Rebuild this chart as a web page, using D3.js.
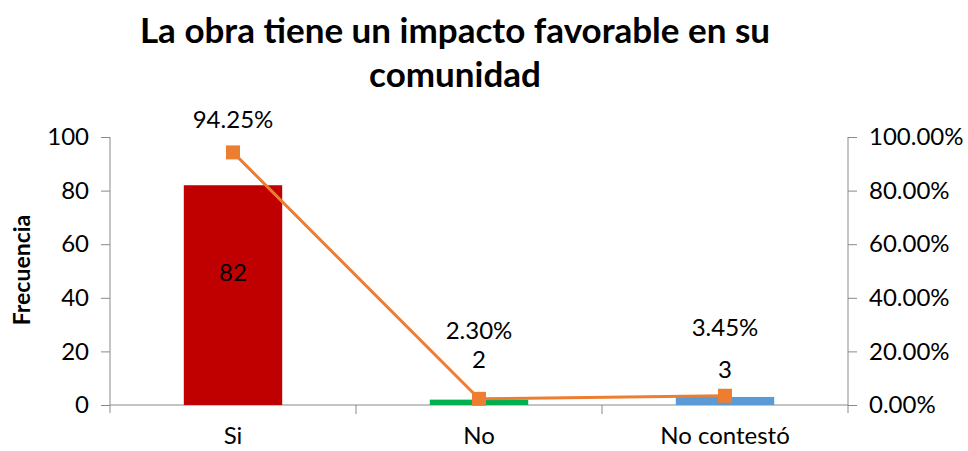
<!DOCTYPE html>
<html>
<head>
<meta charset="utf-8">
<script src="https://cdn.jsdelivr.net/npm/d3@7"></script>
<style>
  body { margin: 0; background: #fff; font-family: Lato, "Open Sans", sans-serif; }
  .tick text { font-size: 24px; fill: #000; font-family: Lato, "Open Sans", sans-serif; }
  .domain, .tick line { stroke: #898989; }
</style>
</head>
<body>
<div id="chart"></div>
<script>
// chart data
const categories = ["Si", "No", "No contestó"];
const frecuencia = [82, 2, 3];
const porcentaje = [94.25, 2.30, 3.45];
const barColours = ["#C00000", "#00B050", "#5B9BD5"];
const leftTicks = [0, 20, 40, 60, 80, 100];
const rightTicks = [0, 20, 40, 60, 80, 100];

const width = 968, height = 451;
const margin = { left: 110, right: 120, top: 137, bottom: 46 };
const innerWidth = width - margin.left - margin.right;
const innerHeight = height - margin.top - margin.bottom;

const svg = d3.select("#chart").append("svg")
    .attr("width", width)
    .attr("height", height);

// title
const title = svg.append("text")
    .attr("text-anchor", "middle")
    .style("font-size", "35px")
    .style("font-weight", "bold");
title.append("tspan").attr("x", 455).attr("y", 43).text("La obra tiene un impacto favorable en su");
title.append("tspan").attr("x", 455).attr("y", 87).text("comunidad");

// y axis title
svg.append("text")
    .attr("transform", "translate(30,270) rotate(-90)")
    .attr("text-anchor", "middle")
    .style("font-size", "23px")
    .style("font-weight", "bold")
    .text("Frecuencia");

const g = svg.append("g")
    .attr("transform", `translate(${margin.left},${margin.top})`);

const xScale = d3.scaleBand().domain(categories).range([0, innerWidth]);
const yScale = d3.scaleLinear().domain([0, 100]).range([innerHeight, 0]);
const pScale = d3.scaleLinear().domain([0, 100]).range([innerHeight, 0]);

// left axis
const yAxisG = g.append("g")
    .call(d3.axisLeft(yScale).tickValues(leftTicks).tickSize(9).tickPadding(12).tickSizeOuter(0));
yAxisG.select(".domain").attr("d", `M0,0V${innerHeight + 8}`);

// right axis
const pAxisG = g.append("g")
    .attr("transform", `translate(${innerWidth},0)`)
    .call(d3.axisRight(pScale).tickValues(rightTicks).tickSize(9).tickPadding(12).tickSizeOuter(0)
        .tickFormat(d => d.toFixed(2) + "%"));
pAxisG.select(".domain").attr("d", `M0,0V${innerHeight + 8}`);

// bottom axis
const xAxisG = g.append("g")
    .attr("transform", `translate(0,${innerHeight})`)
    .call(d3.axisBottom(xScale).tickSize(0).tickPadding(22).tickSizeOuter(0));
xAxisG.select(".domain").attr("d", `M0,0H${innerWidth}`);
// category separators
g.append("g").selectAll("line")
    .data(categories.slice(1))
    .enter().append("line")
    .attr("x1", d => xScale(d))
    .attr("x2", d => xScale(d))
    .attr("y1", innerHeight)
    .attr("y2", innerHeight + 9)
    .attr("stroke", "#898989");

// bars
const barWidth = xScale.bandwidth() * 0.4;
g.selectAll("rect.bar").data(frecuencia)
    .enter().append("rect")
    .attr("class", "bar")
    .attr("x", (d, i) => xScale(categories[i]) + (xScale.bandwidth() - barWidth) / 2)
    .attr("y", d => yScale(d))
    .attr("width", barWidth)
    .attr("height", d => innerHeight - yScale(d))
    .attr("fill", (d, i) => barColours[i]);

// percentage line
const cx = i => xScale(categories[i]) + xScale.bandwidth() / 2;
const line = d3.line()
    .x((d, i) => cx(i))
    .y(d => pScale(d));
g.append("path")
    .datum(porcentaje)
    .attr("d", line)
    .attr("fill", "none")
    .attr("stroke", "#ED7D31")
    .attr("stroke-width", 3);
g.selectAll("rect.marker").data(porcentaje)
    .enter().append("rect")
    .attr("class", "marker")
    .attr("x", (d, i) => cx(i) - 7)
    .attr("y", d => pScale(d) - 7)
    .attr("width", 14)
    .attr("height", 14)
    .attr("fill", "#ED7D31");

// data labels (offsets follow the reference placement)
const freqLabelY = [273, 360, 370];
const pctLabelY = [120, 331, 328];
g.selectAll("text.freq").data(frecuencia)
    .enter().append("text")
    .attr("class", "freq")
    .attr("x", (d, i) => cx(i))
    .attr("y", (d, i) => freqLabelY[i] - margin.top)
    .attr("dy", "0.35em")
    .attr("text-anchor", "middle")
    .style("font-size", "24px")
    .text(d => d);
g.selectAll("text.pct").data(porcentaje)
    .enter().append("text")
    .attr("class", "pct")
    .attr("x", (d, i) => cx(i))
    .attr("y", (d, i) => pctLabelY[i] - margin.top)
    .attr("dy", "0.35em")
    .attr("text-anchor", "middle")
    .style("font-size", "24px")
    .text(d => d.toFixed(2) + "%");
</script>
</body>
</html>
